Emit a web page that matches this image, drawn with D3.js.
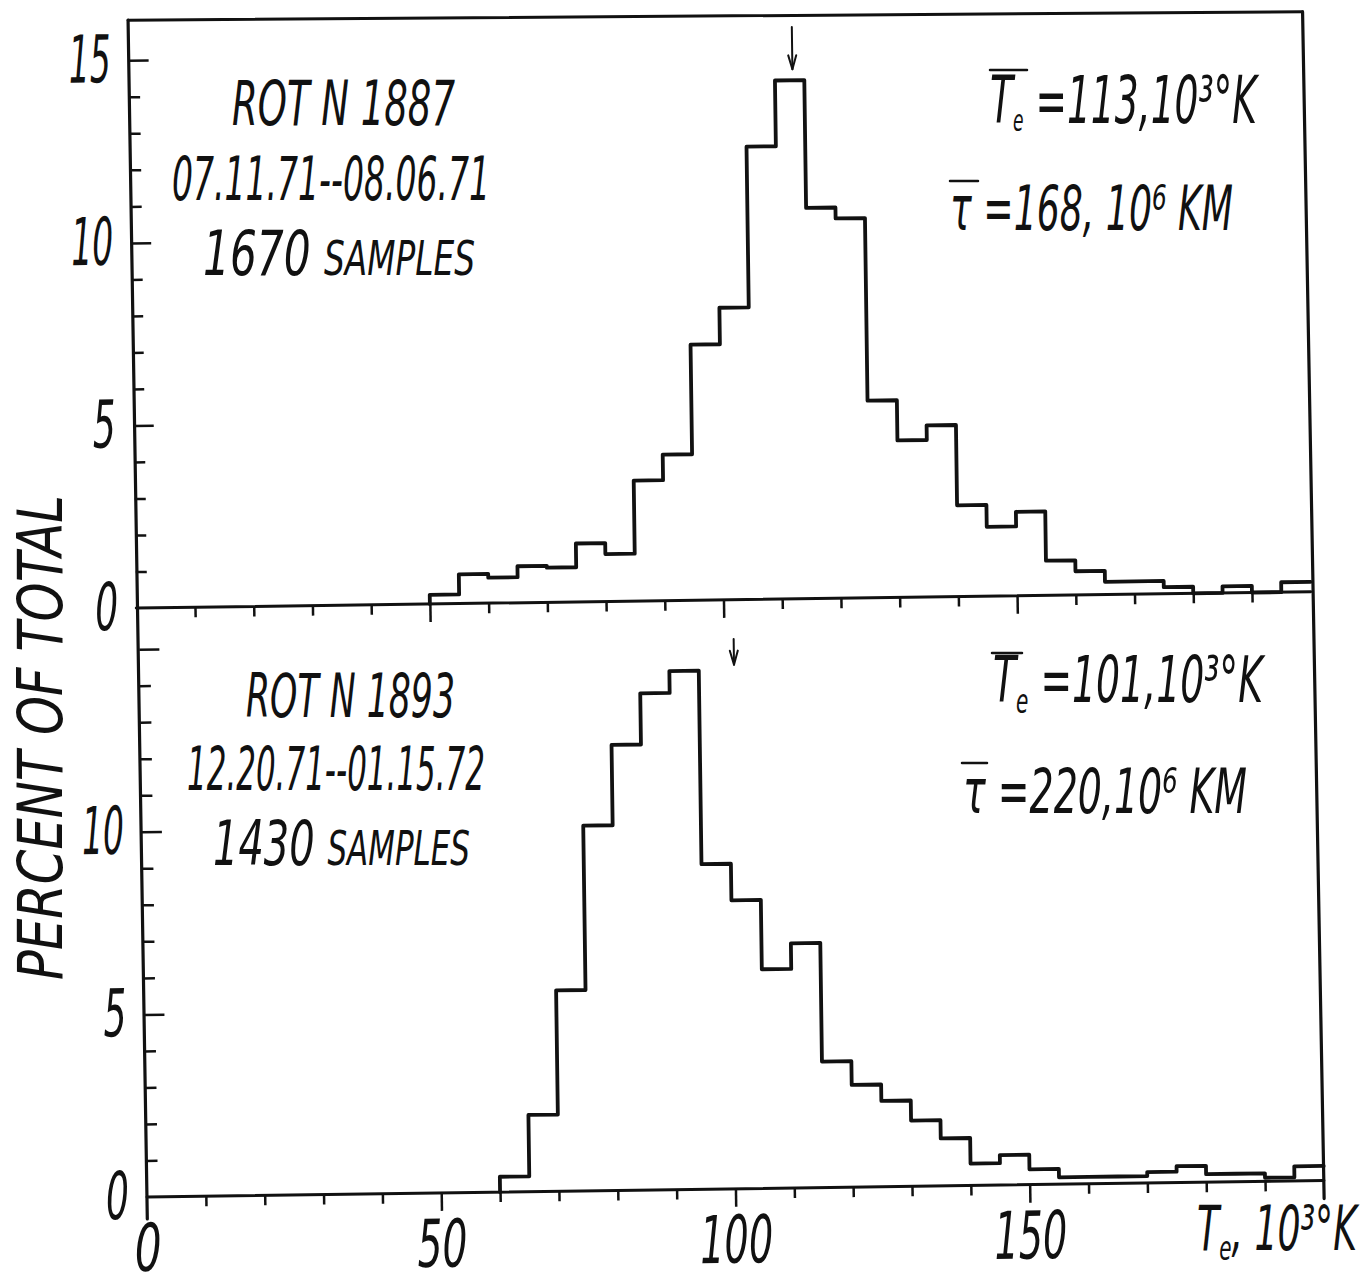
<!DOCTYPE html>
<html>
<head>
<meta charset="utf-8">
<script src="https://cdn.jsdelivr.net/npm/d3@7"></script>
<style>
  body { margin: 0; background: #fff; }
  text { font-family: "DejaVu Sans", sans-serif; font-style: italic; font-weight: 200; fill: #111; }
  .frame, .hist { fill: none; stroke: #111; stroke-linejoin: round; stroke-linecap: round; }
  .tick line { stroke: #111; stroke-width: 2.5; }
  .lbl text { font-size: 66px; }
</style>
</head>
<body>
<div id="chart"></div>
<script>
// lower edge of each histogram bin, 10^3 K (bins are 5 wide)
var binEdges = [50, 55, 60, 65, 70, 75, 80, 85, 90, 95, 100, 105, 110, 115, 120, 125, 130, 135, 140, 145, 150, 155, 160, 165, 170, 175, 180, 185, 190, 195];
var binWidth = 5;

// percent of total samples per bin
var pctRot1887 = [0.25, 0.8, 0.7, 1.0, 0.95, 1.6, 1.3, 3.3, 4.0, 7.0, 8.0, 12.4, 14.2, 10.7, 10.4, 5.4, 4.3, 4.7, 2.5, 1.9, 2.3, 0.95, 0.65, 0.35, 0.35, 0.18, 0, 0.18, 0, 0.27];
var pctRot1893 = [0, 0, 0.42, 2.1, 5.5, 10.0, 12.2, 13.6, 14.2, 8.9, 7.9, 6.0, 6.7, 3.45, 2.8, 2.35, 1.8, 1.3, 0.6, 0.82, 0.42, 0.19, 0.19, 0.19, 0.3, 0.45, 0.22, 0.22, 0.1, 0.4];

// mean temperatures (arrows)
var meanTe = [113, 101];

var yTicks = [0, 1, 2, 3, 4, 5, 6, 7, 8, 9, 10, 11, 12, 13, 14, 15];
var yMajor = [5, 10, 15];
var yLabelsTop = [0, 5, 10, 15];
var yLabelsBot = [0, 5, 10];
var xTicks = [0, 10, 20, 30, 40, 50, 60, 70, 80, 90, 100, 110, 120, 130, 140, 150, 160, 170, 180, 190];
var xLabels = [0, 50, 100, 150];

var svgWidth = 1364;
var svgHeight = 1274;

var svg = d3.select("#chart")
  .append("svg")
  .attr("width", svgWidth)
  .attr("height", svgHeight)
  .style("background", "#fff");

// the scanned sheet is a bit tilted
var plot = svg.append("g")
  .attr("transform", "rotate(-0.8, 147, 1197)");

var xTop = d3.scaleLinear().domain([0, 200]).range([144.5, 1319]);
var xBot = d3.scaleLinear().domain([0, 200]).range([147, 1324]);
var yTop = d3.scaleLinear().domain([0, 16.1]).range([608, 20]);
var yBot = d3.scaleLinear().domain([0, 16.1]).range([1197, 609]);

// frame
var frameLine = d3.line();
plot.append("path").attr("class", "frame").attr("stroke-width", 3)
  .attr("d", frameLine([[xTop(0), yTop(16.1)], [xTop(200), yTop(15.88)]]));
plot.append("path").attr("class", "frame").attr("stroke-width", 3.2)
  .attr("d", frameLine([[xTop(0), yTop(16.1)], [xBot(0), yBot(0) + 22]]));
plot.append("path").attr("class", "frame").attr("stroke-width", 3.2)
  .attr("d", frameLine([[xTop(200), yTop(15.88)], [xBot(200), yBot(0) + 18]]));
plot.append("path").attr("class", "frame").attr("stroke-width", 3)
  .attr("d", frameLine([[xTop(0), yTop(0)], [xTop(200), yTop(0)]]));
plot.append("path").attr("class", "frame").attr("stroke-width", 3)
  .attr("d", frameLine([[xBot(0), yBot(0)], [xBot(200), yBot(0)]]));

// y axes, ticks point inward
function drawYAxis(yScale, x0, labels) {
  var g = plot.append("g")
    .attr("class", "lbl")
    .attr("transform", `translate(${x0}, 0)`)
    .call(d3.axisLeft(yScale)
      .tickValues(yTicks)
      .tickSizeInner(-11)
      .tickSizeOuter(0)
      .tickPadding(18)
      .tickFormat(d => labels.includes(d) ? d : ""));
  g.select(".domain").remove();
  g.selectAll(".tick line")
    .attr("x2", d => d === 0 ? 0 : (yMajor.includes(d) ? 20 : 11));
  g.selectAll(".tick text")
    .attr("textLength", d => labels.includes(d) ? String(d).length * 19 + 4 : null)
    .attr("lengthAdjust", "spacingAndGlyphs");
  return g;
}
drawYAxis(yTop, xTop(0), yLabelsTop);
drawYAxis(yBot, xBot(0), yLabelsBot);

// x axes, ticks point down
function drawXAxis(xScale, y0, labels) {
  var g = plot.append("g")
    .attr("class", "lbl")
    .attr("transform", `translate(0, ${y0})`)
    .call(d3.axisBottom(xScale)
      .tickValues(xTicks)
      .tickSizeInner(10)
      .tickSizeOuter(0)
      .tickPadding(17)
      .tickFormat(d => labels && xLabels.includes(d) ? d : ""));
  g.select(".domain").remove();
  g.selectAll(".tick line")
    .attr("y2", d => d === 0 ? 0 : (xLabels.includes(d) ? 18 : 10));
  g.selectAll(".tick text")
    .attr("textLength", d => xLabels.includes(d) ? String(d).length * 23 + 4 : null)
    .attr("lengthAdjust", "spacingAndGlyphs");
  return g;
}
drawXAxis(xTop, yTop(0), false);
drawXAxis(xBot, yBot(0), true);

// histograms as step outlines
function drawHist(vals, xScale, yScale) {
  var first = vals.findIndex(v => v > 0);
  var pts = [[binEdges[first], 0]];
  for (var i = first; i < vals.length; i++) {
    pts.push([binEdges[i], vals[i]]);
  }
  pts.push([binEdges[vals.length - 1] + binWidth, vals[vals.length - 1]]);

  var line = d3.line()
    .x(d => xScale(d[0]))
    .y(d => yScale(d[1]))
    .curve(d3.curveStepAfter);

  plot.append("path")
    .attr("class", "hist")
    .attr("stroke-width", 3.8)
    .attr("d", line(pts));
}
drawHist(pctRot1887, xTop, yTop);
drawHist(pctRot1893, xBot, yBot);

// arrows at the mean temperature
function drawArrow(xScale, yScale, v, from, to) {
  var x = xScale(v), y1 = yScale(from), y2 = yScale(to);
  plot.append("path").attr("class", "frame").attr("stroke-width", 2)
    .attr("d", frameLine([[x, y1], [x, y2]]));
  plot.append("path").attr("class", "frame").attr("stroke-width", 2)
    .attr("d", frameLine([[x - 4, y2 - 14], [x, y2], [x + 4, y2 - 14]]));
}
drawArrow(xTop, yTop, meanTe[0], 15.66, 14.5);
drawArrow(xBot, yBot, meanTe[1], 15.05, 14.35);

// annotations
function note(x, y, size, len) {
  return svg.append("text")
    .attr("x", x)
    .attr("y", y)
    .attr("font-size", size)
    .style("font-size", size + "px")
    .attr("textLength", len)
    .attr("lengthAdjust", "spacingAndGlyphs");
}
function bar(x1, x2, y) {
  svg.append("path").attr("class", "frame").attr("stroke-width", 2.5)
    .attr("d", frameLine([[x1, y], [x2, y]]));
}

note(232, 125, 62, 223).text("ROT N 1887");
note(172, 200, 60, 318).text("07.11.71--08.06.71");
var s1 = note(203, 275, 62, 272);
s1.append("tspan").text("1670 ");
s1.append("tspan").style("font-size", "48px").text("SAMPLES");

note(246, 717, 60, 209).text("ROT N 1893");
note(187, 790, 60, 298).text("12.20.71--01.15.72");
var s2 = note(213, 865, 62, 257);
s2.append("tspan").text("1430 ");
s2.append("tspan").style("font-size", "48px").text("SAMPLES");

var te1 = note(990, 123, 66, 267);
te1.append("tspan").text("T");
te1.append("tspan").style("font-size", "30px").attr("dy", 8).text("e");
te1.append("tspan").attr("dy", -8).text(" =113,10³°K");
bar(990, 1027, 70);

var r1 = note(950, 230, 62, 283);
r1.text("τ =168, 10⁶ KM");
bar(950, 978, 181);

var te2 = note(993, 702, 64, 270);
te2.append("tspan").text("T");
te2.append("tspan").style("font-size", "34px").attr("dy", 11).text("e");
te2.append("tspan").attr("dy", -11).text(" =101,10³°K");
bar(992, 1022, 653);

var r2 = note(963, 813, 62, 284);
r2.text("τ =220,10⁶ KM");
bar(962, 987, 763);

// x axis title
var xt = note(1197, 1250, 62, 160);
xt.append("tspan").text("T");
xt.append("tspan").style("font-size", "34px").attr("dy", 10).text("e");
xt.append("tspan").attr("dy", -10).text(", 10³°K");

// y axis title
svg.append("text")
  .attr("transform", "translate(62, 980) rotate(-90)")
  .style("font-size", "62px")
  .attr("textLength", 485)
  .attr("lengthAdjust", "spacingAndGlyphs")
  .text("PERCENT OF TOTAL");
</script>
</body>
</html>
